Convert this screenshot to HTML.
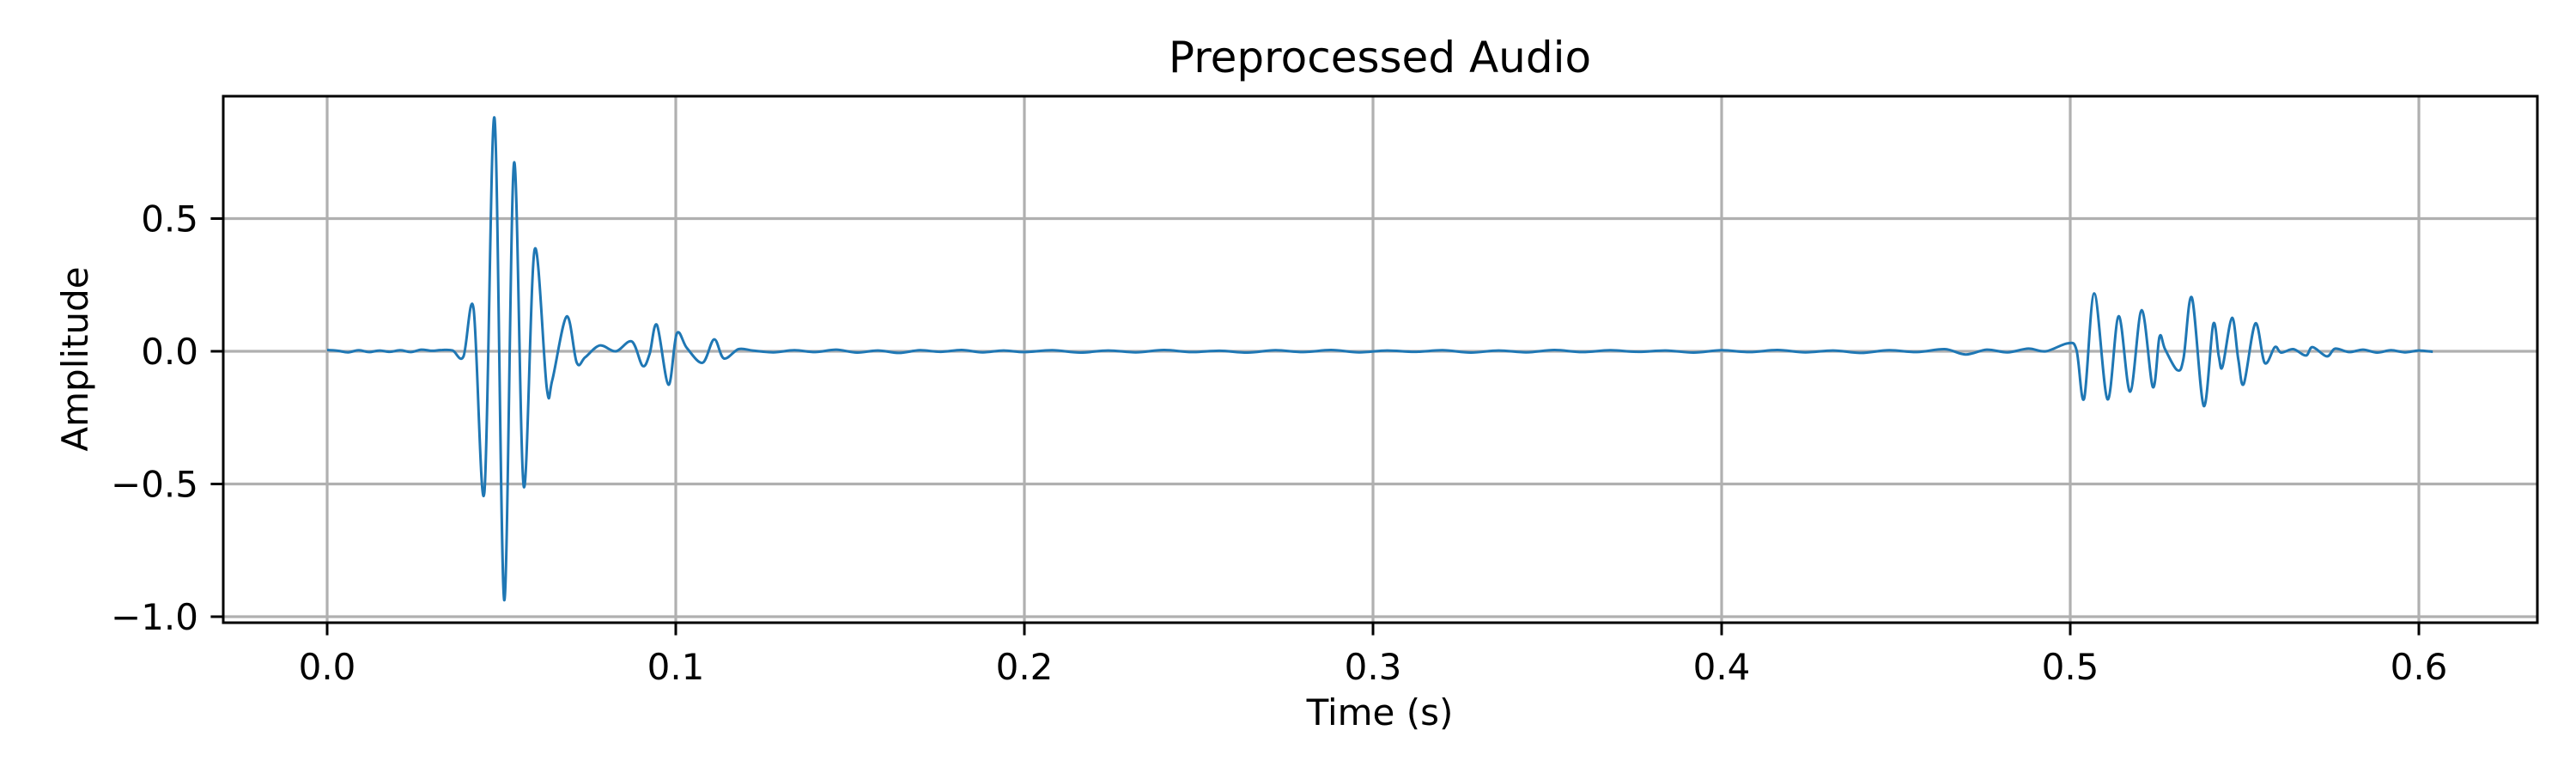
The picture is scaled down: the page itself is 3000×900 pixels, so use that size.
<!DOCTYPE html>
<html><head><meta charset="utf-8"><title>Preprocessed Audio</title>
<style>
html,body{margin:0;padding:0;background:#fff;}
svg{display:block;font-family:"DejaVu Sans","Liberation Sans",sans-serif;}
</style></head>
<body>
<svg id="chart" width="3000" height="900" viewBox="0 0 3000 900" xmlns="http://www.w3.org/2000/svg">
<rect x="0" y="0" width="3000" height="900" fill="#fff"/>
<g id="grid"></g>
<g id="plot"></g>
<rect x="260" y="112" width="2695" height="613" fill="none" stroke="#000" stroke-width="3"/>
<g id="xticks"></g>
<g id="yticks"></g>
<text x="1607" y="84" font-size="50" text-anchor="middle">Preprocessed Audio</text>
<text x="1607" y="844" font-size="42" text-anchor="middle">Time (s)</text>
<text x="0" y="0" font-size="42" text-anchor="middle" transform="translate(102,418) rotate(-90)">Amplitude</text>
</svg>
<script>
const xTicks = [0.0, 0.1, 0.2, 0.3, 0.4, 0.5, 0.6];
const xTickLabels = ["0.0", "0.1", "0.2", "0.3", "0.4", "0.5", "0.6"];
const yTicks = [0.5, 0.0, -0.5, -1.0];
const yTickLabels = ["0.5", "0.0", "\u22120.5", "\u22121.0"];
const times = [
0.000,0.003,0.006,0.009,0.012,0.015,0.018,0.021,0.024,0.027,0.030,0.033,0.036,0.0391,
0.0420,0.0451,0.0480,0.0508,0.0536,0.0564,0.0595,0.0630,0.0646,0.0687,0.0716,0.0740,0.0782,0.0828,0.0874,0.0905,0.0925,0.0946,0.0979,0.1003,0.1032,0.1077,0.1110,0.1138,0.1180,
0.122,0.128,0.134,0.140,0.146,0.152,0.158,0.164,0.170,0.176,0.182,0.188,0.194,0.200,0.208,0.216,0.224,0.232,0.240,0.248,0.256,0.264,0.272,0.280,0.288,0.296,0.304,0.312,0.320,0.328,0.336,0.344,0.352,0.360,0.368,0.376,0.384,0.392,0.400,0.408,0.416,0.424,0.432,0.440,0.448,0.456,0.464,0.470,0.476,0.482,0.488,0.4930,0.4993,0.5018,
0.5040,0.5069,0.5107,0.5139,0.5172,0.5205,0.5237,0.5256,0.5272,0.5307,0.5325,0.5349,0.5383,0.5410,0.5426,0.5437,0.5464,0.5482,0.5498,0.5531,0.5558,0.5587,0.5605,0.5640,0.5676,0.5695,0.5736,0.5760,0.580,0.584,0.588,0.592,0.596,0.600,0.604];
const amps = [
0.005,0.002,-0.004,0.004,-0.003,0.003,-0.002,0.004,-0.003,0.006,0.002,0.005,0.003,-0.020,
0.161,-0.532,0.879,-0.938,0.709,-0.510,0.383,-0.139,-0.107,0.131,-0.043,-0.023,0.022,0.000,0.037,-0.055,-0.010,0.099,-0.126,0.067,0.012,-0.043,0.045,-0.027,0.008,
0.003,-0.004,0.004,-0.003,0.006,-0.005,0.003,-0.006,0.004,-0.002,0.005,-0.004,0.003,-0.003,0.004,-0.005,0.003,-0.004,0.005,-0.003,0.002,-0.005,0.004,-0.003,0.005,-0.004,0.003,-0.002,0.004,-0.005,0.003,-0.004,0.005,-0.003,0.004,-0.002,0.003,-0.005,0.004,-0.003,0.005,-0.004,0.003,-0.006,0.004,-0.003,0.008,-0.012,0.006,-0.004,0.010,0.000,0.030,0.005,
-0.178,0.218,-0.181,0.132,-0.152,0.155,-0.135,0.054,0.008,-0.071,-0.027,0.202,-0.206,0.102,-0.019,-0.057,0.126,-0.030,-0.122,0.105,-0.044,0.016,-0.005,0.008,-0.016,0.016,-0.019,0.010,-0.003,0.006,-0.005,0.004,-0.004,0.003,-0.002];

const X0 = 381, XS = 4060, Y0 = 409, YS = 309, LEFT = 260, RIGHT = 2955, TOP = 112, BOTTOM = 725;
function xScale(t){ return X0 + t * XS; }
function yScale(a){ return Y0 - a * YS; }
const NS = "http://www.w3.org/2000/svg";
const grid = document.getElementById('grid');
const xg = document.getElementById('xticks');
const yg = document.getElementById('yticks');

xTicks.forEach((t, i) => {
  const x = xScale(t);
  const gl = document.createElementNS(NS, 'line');
  gl.setAttribute('x1', x); gl.setAttribute('x2', x); gl.setAttribute('y1', TOP); gl.setAttribute('y2', BOTTOM);
  gl.setAttribute('stroke', '#b0b0b0'); gl.setAttribute('stroke-width', '3.2');
  
  
  grid.appendChild(gl);
  const tk = document.createElementNS(NS, 'line');
  tk.setAttribute('x1', x); tk.setAttribute('x2', x); tk.setAttribute('y1', BOTTOM); tk.setAttribute('y2', BOTTOM + 14.6);
  tk.setAttribute('stroke', '#000'); tk.setAttribute('stroke-width', '3');
  
  
  xg.appendChild(tk);
  const lb = document.createElementNS(NS, 'text');
  lb.setAttribute('x', x); lb.setAttribute('y', 791);
  lb.setAttribute('font-size', '42'); lb.setAttribute('text-anchor', 'middle');
  lb.textContent = xTickLabels[i];
  
  
  xg.appendChild(lb);
});
yTicks.forEach((v, i) => {
  const y = yScale(v);
  const gl = document.createElementNS(NS, 'line');
  gl.setAttribute('x1', LEFT); gl.setAttribute('x2', RIGHT); gl.setAttribute('y1', y); gl.setAttribute('y2', y);
  gl.setAttribute('stroke', '#b0b0b0'); gl.setAttribute('stroke-width', '3.2');
  
  
  grid.appendChild(gl);
  const tk = document.createElementNS(NS, 'line');
  tk.setAttribute('x1', LEFT - 14.6); tk.setAttribute('x2', LEFT); tk.setAttribute('y1', y); tk.setAttribute('y2', y);
  tk.setAttribute('stroke', '#000'); tk.setAttribute('stroke-width', '3');
  
  
  yg.appendChild(tk);
  const lb = document.createElementNS(NS, 'text');
  lb.setAttribute('x', 231); lb.setAttribute('y', y + 15);
  lb.setAttribute('font-size', '42'); lb.setAttribute('text-anchor', 'end');
  lb.textContent = yTickLabels[i];
  
  
  yg.appendChild(lb);
});

// smooth curve (Catmull-Rom) through the data points
const pts = times.map((t, i) => [xScale(t), yScale(amps[i])]);
let d = 'M' + pts[0][0].toFixed(1) + ',' + pts[0][1].toFixed(1);
for (let i = 0; i < pts.length - 1; i++) {
  const p0 = pts[Math.max(0, i - 1)], p1 = pts[i], p2 = pts[i + 1], p3 = pts[Math.min(pts.length - 1, i + 2)];
  const c1x = p1[0] + (p2[0] - p0[0]) / 6, c1y = p1[1] + (p2[1] - p0[1]) / 6;
  const c2x = p2[0] - (p3[0] - p1[0]) / 6, c2y = p2[1] - (p3[1] - p1[1]) / 6;
  d += ' C' + c1x.toFixed(1) + ',' + c1y.toFixed(1) + ' ' + c2x.toFixed(1) + ',' + c2y.toFixed(1) + ' ' + p2[0].toFixed(1) + ',' + p2[1].toFixed(1);
}
const path = document.createElementNS(NS, 'path');
path.setAttribute('d', d);
path.setAttribute('fill', 'none');
path.setAttribute('stroke', '#1f77b4');
path.setAttribute('stroke-width', '3');
path.setAttribute('stroke-linejoin', 'round');


document.getElementById('plot').appendChild(path);
</script>
</body></html>
